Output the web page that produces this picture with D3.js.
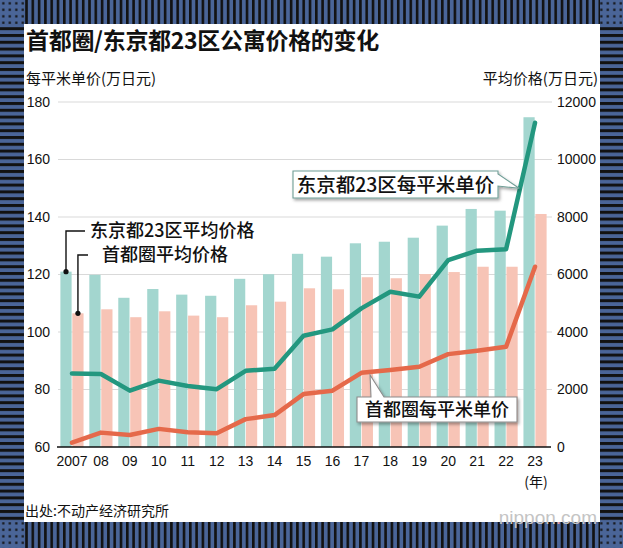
<!DOCTYPE html>
<html>
<head>
<meta charset="utf-8">
<script src="https://cdn.jsdelivr.net/npm/d3@7"></script>
<style>
  html, body { margin: 0; padding: 0; background: #fff; }
  svg { display: block; }
  text { font-family: "Liberation Sans", "Noto Sans CJK SC", sans-serif; fill: #111; }
</style>
</head>
<body>
<svg id="chart" width="623" height="548"></svg>
<script>
// ---------------- data ----------------
const years = ["2007","08","09","10","11","12","13","14","15","16","17","18","19","20","21","22","23"];
// average price (万日元), right axis
const tokyoAvg = [6100, 5990, 5190, 5495, 5300, 5260, 5850, 6010, 6720, 6620, 7085, 7140, 7280, 7700, 8280, 8220, 11470];
const metroAvg = [4650, 4790, 4515, 4720, 4570, 4515, 4930, 5055, 5520, 5485, 5905, 5870, 6015, 6085, 6270, 6270, 8105];
// price per m² (万日元), left axis
const tokyoUnit = [85.6, 85.4, 79.6, 83.1, 81.2, 80.1, 86.5, 87.2, 98.7, 100.9, 108.2, 114.0, 112.3, 125.0, 128.3, 128.8, 172.8];
const metroUnit = [61.5, 65.0, 64.2, 66.3, 65.1, 64.8, 69.7, 71.1, 78.4, 79.6, 85.8, 86.8, 87.9, 92.3, 93.5, 94.9, 122.7];
const leftTicks = [60, 80, 100, 120, 140, 160, 180];
const rightTicks = [0, 2000, 4000, 6000, 8000, 10000, 12000];

const title = "首都圈/东京都23区公寓价格的变化";
const leftTitle = "每平米单价(万日元)";
const rightTitle = "平均价格(万日元)";
const labelTokyoAvg = "东京都23区平均价格";
const labelMetroAvg = "首都圈平均价格";
const labelTokyoUnit = "东京都23区每平米单价";
const labelMetroUnit = "首都圈每平米单价";
const yearUnit = "(年)";
const source = "出处:不动产经济研究所";

// ---------------- colours ----------------
const C = {
  blue: "#4a6598", black: "#121212",
  tealBar: "#a3d6cf", pinkBar: "#f7c4b6",
  tealLine: "#23977f", orangeLine: "#e5694a",
  grid: "#d9d9d9"
};

const W = 623, H = 548;
const svg = d3.select("#chart");
const defs = svg.append("defs");
const CJK = '"Noto Sans CJK SC", sans-serif';
const LAT = '"Liberation Sans", sans-serif';

// ---------------- decorative frame ----------------
const vp = defs.append("pattern").attr("id","vstripe").attr("patternUnits","userSpaceOnUse")
  .attr("width",6.3).attr("height",10);
vp.append("rect").attr("width",6.3).attr("height",10).attr("fill",C.blue);
vp.append("rect").attr("width",2.6).attr("height",10).attr("fill",C.black);
const hp = defs.append("pattern").attr("id","hstripe").attr("patternUnits","userSpaceOnUse")
  .attr("width",10).attr("height",6.8);
hp.append("rect").attr("width",10).attr("height",6.8).attr("fill",C.blue);
hp.append("rect").attr("width",10).attr("height",3).attr("fill",C.black);
const dp = defs.append("pattern").attr("id","dots").attr("patternUnits","userSpaceOnUse")
  .attr("width",6.5).attr("height",6.5);
dp.append("rect").attr("width",6.5).attr("height",6.5).attr("fill",C.blue);
dp.append("rect").attr("x",2.2).attr("y",2.2).attr("width",2.2).attr("height",2.2).attr("fill",C.black);

const fx0 = 24, fx1 = 600, fy0 = 24, fy1 = 522;
svg.append("rect").attr("width",W).attr("height",H).attr("fill",C.blue);
svg.append("rect").attr("x",fx0).attr("y",0).attr("width",fx1-fx0).attr("height",fy0).attr("fill","url(#vstripe)");
svg.append("rect").attr("x",fx0).attr("y",fy1).attr("width",fx1-fx0).attr("height",H-fy1).attr("fill","url(#vstripe)");
svg.append("rect").attr("x",0).attr("y",fy0).attr("width",fx0).attr("height",fy1-fy0).attr("fill","url(#hstripe)");
svg.append("rect").attr("x",fx1).attr("y",fy0).attr("width",W-fx1).attr("height",fy1-fy0).attr("fill","url(#hstripe)");
[[0,0,fx0,fy0],[fx1,0,W-fx1,fy0],[0,fy1,fx0,H-fy1],[fx1,fy1,W-fx1,H-fy1]].forEach(r=>{
  svg.append("rect").attr("x",r[0]).attr("y",r[1]).attr("width",r[2]).attr("height",r[3]).attr("fill","url(#dots)");
});
svg.append("rect").attr("x",fx0).attr("y",fy0).attr("width",fx1-fx0).attr("height",fy1-fy0).attr("fill","#fff");

// shadow filter for callouts
const f = defs.append("filter").attr("id","shadow").attr("x","-20%").attr("y","-40%").attr("width","140%").attr("height","200%");
f.append("feDropShadow").attr("dx",1.5).attr("dy",2).attr("stdDeviation",1.8).attr("flood-color","#000").attr("flood-opacity",0.35);

// ---------------- scales ----------------
const plotL = 57.5, plotR = 549.5, plotT = 102, plotB = 447;
const x = d3.scaleBand().domain(years).range([plotL, plotR]).paddingInner(0.2).paddingOuter(0.1);
const xs = d3.scaleBand().domain(["tokyo","metro"]).range([0, x.bandwidth()]).paddingInner(0.06);
const yL = d3.scaleLinear().domain([60, 180]).range([plotB, plotT]);
const yR = d3.scaleLinear().domain([0, 12000]).range([plotB, plotT]);
const cx = y => x(y) + x.bandwidth()/2;

// ---------------- titles ----------------
svg.append("text").attr("x",26).attr("y",49).attr("font-size",23).attr("font-weight","bold")
  .style("font-family",CJK).attr("letter-spacing",-0.3).text(title);
svg.append("text").attr("x",26).attr("y",84).attr("font-size",15)
  .style("font-family",CJK).text(leftTitle);
svg.append("text").attr("x",598).attr("y",84).attr("font-size",15).attr("text-anchor","end")
  .style("font-family",CJK).text(rightTitle);

// ---------------- grid ----------------
svg.append("g").selectAll("line").data(leftTicks.filter(d=>d>60)).join("line")
  .attr("x1",58).attr("x2",552).attr("y1",d=>yL(d)).attr("y2",d=>yL(d))
  .attr("stroke",C.grid).attr("stroke-width",1.2);

// ---------------- bars ----------------
const bars = svg.append("g");
bars.selectAll("rect.t").data(years).join("rect").attr("class","t")
  .attr("x",d=>x(d)+xs("tokyo")).attr("width",xs.bandwidth())
  .attr("y",(d,i)=>yR(tokyoAvg[i])).attr("height",(d,i)=>yR(0)-yR(tokyoAvg[i]))
  .attr("fill",C.tealBar);
bars.selectAll("rect.m").data(years).join("rect").attr("class","m")
  .attr("x",d=>x(d)+xs("metro")).attr("width",xs.bandwidth())
  .attr("y",(d,i)=>yR(metroAvg[i])).attr("height",(d,i)=>yR(0)-yR(metroAvg[i]))
  .attr("fill",C.pinkBar);

// ---------------- axes ----------------
const axL = d3.axisLeft(yL).tickValues(leftTicks).tickSize(0).tickPadding(0);
const gL = svg.append("g").attr("transform","translate(50,0)").call(axL);
gL.select(".domain").remove();
gL.selectAll("text").attr("font-size",14).style("font-family",LAT).attr("fill","#111");

const axR = d3.axisRight(yR).tickValues(rightTicks).tickSize(0).tickPadding(0).tickFormat(d3.format("d"));
const gR = svg.append("g").attr("transform","translate(557,0)").call(axR);
gR.select(".domain").remove();
gR.selectAll("text").attr("font-size",14).style("font-family",LAT).attr("fill","#111");

const axB = d3.axisBottom(x).tickSize(0).tickPadding(9);
const gB = svg.append("g").attr("transform",`translate(0,${plotB})`).call(axB);
gB.select(".domain").attr("d",`M57,0H551`).attr("stroke","#111").attr("stroke-width",1.7);
gB.selectAll("text").attr("font-size",14).style("font-family",LAT).attr("fill","#111");
svg.append("text").attr("x",cx("23")+1).attr("y",487).attr("text-anchor","middle").attr("font-size",14)
  .style("font-family",CJK).text(yearUnit);

// ---------------- lines ----------------
const lineL = d3.line().x((d,i)=>cx(years[i])).y(d=>yL(d));
svg.append("path").datum(metroUnit).attr("d",lineL).attr("fill","none")
  .attr("stroke",C.orangeLine).attr("stroke-width",4.5).attr("stroke-linejoin","round").attr("stroke-linecap","round");
svg.append("path").datum(tokyoUnit).attr("d",lineL).attr("fill","none")
  .attr("stroke",C.tealLine).attr("stroke-width",4.5).attr("stroke-linejoin","round").attr("stroke-linecap","round");

// ---------------- leader labels for bars ----------------
const ann = svg.append("g");
const p1 = [x("2007")+xs("tokyo")+xs.bandwidth()/2, yR(tokyoAvg[0])];
const p2 = [x("2007")+xs("metro")+xs.bandwidth()/2, yR(metroAvg[0])];
ann.append("path").attr("d",`M${p1[0]},${p1[1]}V231H85`).attr("fill","none").attr("stroke","#111").attr("stroke-width",1.4);
ann.append("path").attr("d",`M${p2[0]},${p2[1]}V255H88`).attr("fill","none").attr("stroke","#111").attr("stroke-width",1.4);
ann.append("circle").attr("cx",p1[0]).attr("cy",p1[1]).attr("r",2.6).attr("fill","#111");
ann.append("circle").attr("cx",p2[0]).attr("cy",p2[1]).attr("r",2.6).attr("fill","#111");
ann.append("text").attr("x",90).attr("y",231).attr("dy","0.36em").attr("font-size",18).attr("font-weight",500)
  .style("font-family",CJK).text(labelTokyoAvg);
ann.append("text").attr("x",102).attr("y",255).attr("dy","0.36em").attr("font-size",18).attr("font-weight",500)
  .style("font-family",CJK).text(labelMetroAvg);

// ---------------- callouts for lines ----------------
function along(arr, i, t) {
  const xa = cx(years[i]), xb = cx(years[i+1]);
  return [xa + (xb-xa)*t, yL(arr[i]) + (yL(arr[i+1])-yL(arr[i]))*t];
}
// teal callout
const t1 = along(tokyoUnit, 15, 0.45);
const b1 = {x: 293, y: 171, w: 205, h: 27};
const c1 = ann.append("g");
c1.append("path")
  .attr("d",`M${b1.x},${b1.y}H${b1.x+b1.w}V${b1.y+3}L${t1[0]},${t1[1]-4}L${b1.x+b1.w},${b1.y+15}V${b1.y+b1.h}H${b1.x}Z`)
  .attr("fill","#fff").attr("stroke","#6f9e96").attr("stroke-width",1.1).attr("filter","url(#shadow)");
c1.append("text").attr("x",b1.x+b1.w/2).attr("y",b1.y+b1.h/2).attr("dy","0.36em").attr("text-anchor","middle")
  .attr("font-size",19.5).attr("font-weight",500).style("font-family",CJK).text(labelTokyoUnit);

// orange callout
const t2 = along(metroUnit, 10, 0.3);
const b2 = {x: 357, y: 397, w: 160, h: 25};
const c2 = ann.append("g");
c2.append("path")
  .attr("d",`M${b2.x},${b2.y}H${b2.x+14}L${t2[0]},${t2[1]+3}L${b2.x+27},${b2.y}H${b2.x+b2.w}V${b2.y+b2.h}H${b2.x}Z`)
  .attr("fill","#fff").attr("stroke","#8c8c8c").attr("stroke-width",1.1).attr("filter","url(#shadow)");
c2.append("text").attr("x",b2.x+b2.w/2).attr("y",b2.y+b2.h/2).attr("dy","0.36em").attr("text-anchor","middle")
  .attr("font-size",18).attr("font-weight",500).style("font-family",CJK).text(labelMetroUnit);

// ---------------- footer ----------------
svg.append("text").attr("x",25).attr("y",511).attr("dy","0.36em").attr("font-size",14)
  .style("font-family",CJK).text(source);
const wm = svg.append("text").attr("x",597).attr("y",517).attr("dy","0.36em").attr("text-anchor","end")
  .attr("font-size",19).style("font-family",LAT);
wm.append("tspan").attr("fill","#c4c4c4").text("nippon");
wm.append("tspan").attr("fill","#e39a9a").text(".");
wm.append("tspan").attr("fill","#c4c4c4").text("com");
</script>
</body>
</html>
